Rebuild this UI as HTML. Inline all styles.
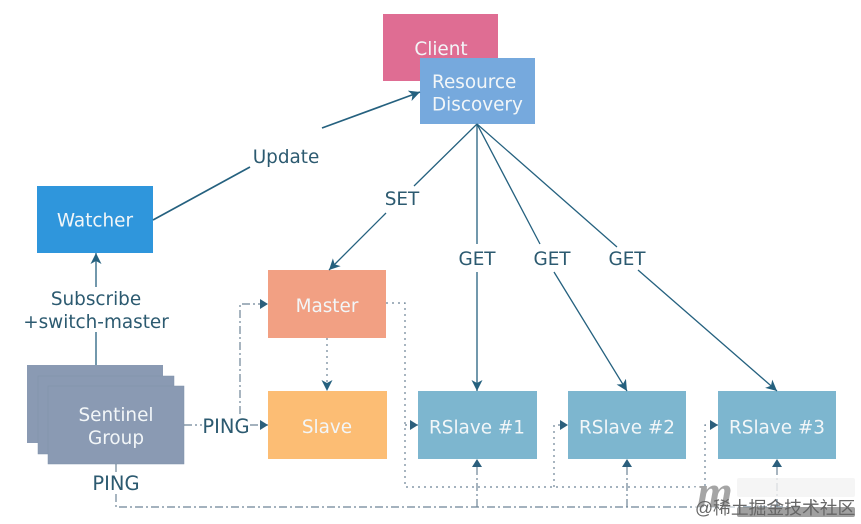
<!DOCTYPE html>
<html><head><meta charset="utf-8"><style>
html,body{margin:0;padding:0;background:#fff;overflow:hidden}
svg{display:block;filter:blur(.35px)}
text{font-family:"DejaVu Sans","Noto Sans CJK SC",sans-serif;font-size:18.400px}
.w{fill:#f2f6f8;text-anchor:middle}
.l{fill:#2c5a70;text-anchor:middle}
</style></head><body>
<svg width="861" height="524" viewBox="0 0 861 524" xmlns="http://www.w3.org/2000/svg">
<defs>
<marker id="a" markerWidth="13" markerHeight="12" refX="11" refY="6" orient="auto" markerUnits="userSpaceOnUse"><path d="M0 0.500L11 6L0 11.500L3 6Z" fill="#25617f"/></marker>
<marker id="b" markerWidth="10" markerHeight="12" refX="8" refY="6" orient="auto" markerUnits="userSpaceOnUse"><path d="M0 1L8 6L0 11Z" fill="#2b5f7c"/></marker>
</defs>
<rect x="383" y="14" width="115" height="67" fill="#df6d93"/>
<text x="441" y="55" class="w">Client</text>
<rect x="420" y="58" width="115" height="66" fill="#76a9dd"/>
<text x="432" y="88" fill="#f2f6f8">Resource</text>
<text x="432" y="110.500" fill="#f2f6f8">Discovery</text>
<rect x="37" y="186" width="116" height="67" fill="#2f96dc"/>
<text x="95" y="226.500" class="w">Watcher</text>
<rect x="27" y="365" width="136" height="78" fill="#8a9ab3"/>
<rect x="38" y="376" width="136" height="78" fill="#8a9ab3" stroke="#7f90a9" stroke-width=".5"/>
<rect x="48" y="386" width="136" height="78" fill="#8a9ab3" stroke="#7f90a9" stroke-width=".5"/>
<text x="116" y="421" class="w">Sentinel</text>
<text x="116" y="444" class="w">Group</text>
<rect x="268" y="270" width="118" height="68" fill="#f2a083"/>
<text x="327" y="312" class="w">Master</text>
<rect x="268" y="391" width="119" height="68" fill="#fcbd74"/>
<text x="327" y="433" class="w">Slave</text>
<rect x="418" y="391" width="119" height="68" fill="#7db6cf"/>
<text x="477" y="433.500" class="w">RSlave #1</text>
<rect x="568" y="391" width="118" height="68" fill="#7db6cf"/>
<text x="627" y="433.500" class="w">RSlave #2</text>
<rect x="718" y="391" width="118" height="68" fill="#7db6cf"/>
<text x="777" y="433.500" class="w">RSlave #3</text>

<g fill="none" stroke="#25617f" stroke-width="1.300">
<path d="M153 220L250 167M322 128L420 92" stroke-width="1.700" marker-end="url(#a)"/>
<path d="M96 287V253" marker-end="url(#a)"/>
<path d="M96 332V365"/>
<path d="M477 124L414 186M386 213L329 270" marker-end="url(#a)"/>
<path d="M477 124V244M477 272V391" marker-end="url(#a)"/>
<path d="M477 124L540 244M554 272L627 391" marker-end="url(#a)"/>
<path d="M477 124L617 247M638 270L777 391" marker-end="url(#a)"/>
</g>
<g fill="none" stroke="#6d8496" stroke-width="1.200">
<g stroke-dasharray="8 3 2 3">
<path d="M184 425H202"/>
<path d="M250 425H268" marker-end="url(#b)"/>
<path d="M240 414V304H268" marker-end="url(#b)"/>
<path d="M116 464V474M116 494V507H800"/>
<path d="M477 507V459" marker-end="url(#b)"/>
<path d="M627 507V459" marker-end="url(#b)"/>
<path d="M777 507V459" marker-end="url(#b)"/>
</g>
<g stroke-dasharray="2 4">
<path d="M386 303H405V487H705V425H718" marker-end="url(#b)"/>
<path d="M405 425H418" marker-end="url(#b)"/>
<path d="M554 487V425H568" marker-end="url(#b)"/>
<path d="M327 338V391" marker-end="url(#a)"/>
</g>
</g>

<text x="286" y="163" class="l">Update</text>
<text x="402" y="205" class="l">SET</text>
<text x="477" y="265" class="l">GET</text>
<text x="552" y="265" class="l">GET</text>
<text x="627" y="265" class="l">GET</text>
<text x="96" y="305" class="l">Subscribe</text>
<text x="96" y="328" class="l">+switch-master</text>
<text x="226" y="433" class="l" style="font-size:19.500px">PING</text>
<text x="116" y="490" class="l" style="font-size:19.500px">PING</text>

<rect x="693" y="487" width="44" height="30" fill="#fff" opacity=".6"/>
<rect x="737" y="478" width="118" height="19" rx="2" fill="#f3f3f3" opacity=".8"/>
<rect x="737" y="507" width="118" height="10" rx="2" fill="#8f8f8f" opacity=".85"/>
<text x="697" y="507" fill="#a5a5a5" style="font-family:'Liberation Serif',serif;font-size:46px;font-style:italic;font-weight:bold">m</text>
<text x="695" y="514" fill="#666" style="font-size:17.800px;font-family:'Liberation Sans','Noto Sans CJK SC',sans-serif">@稀土掘金技术社区</text>
</svg>
</body></html>
